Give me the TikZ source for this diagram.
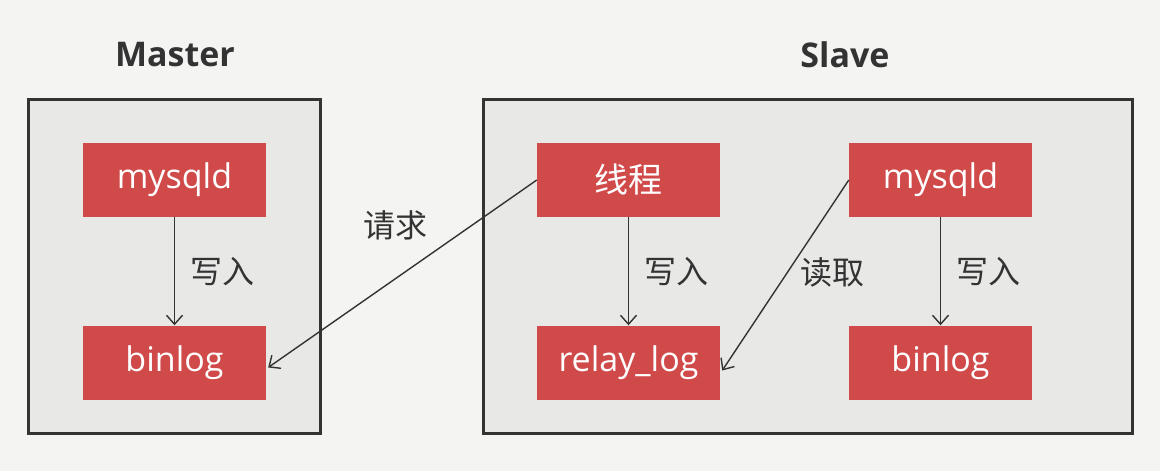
\documentclass[tikz,border=0pt]{standalone}
\usepackage{fontspec}
\setmainfont{Open Sans}
\newfontfamily\cjk{Noto Sans CJK SC}
\usetikzlibrary{arrows.meta}
\definecolor{bg}{HTML}{F4F4F2}
\definecolor{panel}{HTML}{E8E8E7}
\definecolor{frame}{HTML}{333333}
\definecolor{redbox}{HTML}{D14A4A}
\definecolor{txt}{HTML}{333333}
\tikzset{
  panelbox/.style={draw=frame, line width=3pt, fill=panel},
  rbox/.style={fill=redbox, minimum width=183pt, minimum height=74pt, inner sep=0pt, text=white, font=\fontsize{34}{38}\selectfont},
  conn/.style={draw=frame, line width=1.4pt, -{Straight Barb[length=9pt,width=16pt,line width=1.4pt]}},
  lbl/.style={text=txt, font=\cjk\fontsize{32}{36}\selectfont},
  ttl/.style={text=txt, font=\bfseries\fontsize{34}{38}\selectfont}
}
\begin{document}
\begin{tikzpicture}[x=1pt,y=-1pt]
\fill[bg] (0,0) rectangle (1160,471);
\useasboundingbox (0,0) rectangle (1160,471);
\node[ttl] (tm) at (175,55) {Master};
\node[ttl] (ts) at (845,55) {Slave};
\draw[panelbox] (28,99) rectangle (320,433);
\draw[panelbox] (483,99) rectangle (1132,433);
\node[rbox] (mm) at (174.5,180) {mysqld};
\node[rbox] (mb) at (174.5,362.5) {binlog};
\node[rbox] (th) at (628.5,180) {\cjk 线程};
\node[rbox] (rl) at (628.5,362.5) {relay\_log};
\node[rbox] (sm) at (940.5,180) {mysqld};
\node[rbox] (sb) at (940.5,362.5) {binlog};
\draw[conn] (mm) -- (mb);
\draw[conn] (th) -- (rl);
\draw[conn] (sm) -- (sb);
\draw[conn] (th.west) -- ([xshift=2pt,yshift=-5pt]mb.east);
\draw[conn] (sm.west) -- ([xshift=2pt,yshift=-8pt]rl.east);
\node[lbl] (l1) at (222,272) {写入};
\node[lbl] (l2) at (395,225) {请求};
\node[lbl] (l3) at (676,272) {写入};
\node[lbl] (l4) at (832,272) {读取};
\node[lbl] (l5) at (988,272) {写入};
\end{tikzpicture}
\end{document}
